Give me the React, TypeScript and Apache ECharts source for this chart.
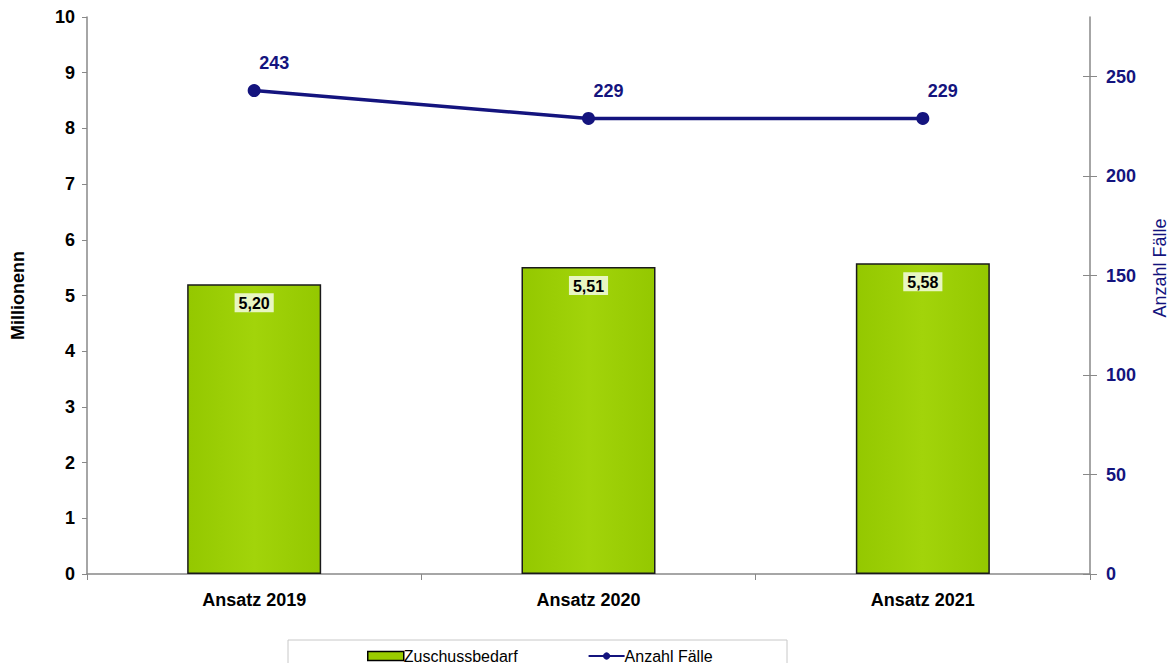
import React, { useEffect, useRef } from "react";
import * as echarts from "echarts";

const categories = ["Ansatz 2019", "Ansatz 2020", "Ansatz 2021"];
const zuschussbedarf = [5.2, 5.51, 5.58];
const anzahlFaelle = [243, 229, 229];
const leftTicks = { min: 0, max: 10, interval: 1 };
const rightTicks = { min: 0, max: 280, interval: 50 };
const rightTickValues = [0, 50, 100, 150, 200, 250];

const FONT = "'Liberation Sans', Arial, sans-serif";
const NAVY = "#14147e";

export default function App() {
  const ref = useRef<HTMLDivElement>(null);
  useEffect(() => {
    if (!ref.current) return;
    const chart = echarts.init(ref.current, undefined, { renderer: "svg" });
    chart.setOption({
      animation: false,
      backgroundColor: "#ffffff",
      textStyle: { fontFamily: FONT },
      grid: { left: 87, right: 81, top: 17, bottom: 89, containLabel: false },
      legend: {
        left: 362,
        top: 643,
        itemGap: 70,
        itemWidth: 36,
        itemHeight: 9,
        textStyle: { fontFamily: FONT, fontSize: 16, color: "#000", padding: [0, 0, 0, -5] },
        data: [
          { name: "Zuschussbedarf", icon: "rect", itemStyle: { color: "#9acc00", borderColor: "#000", borderWidth: 1.5 } },
          { name: "Anzahl Fälle" },
        ],
      },
      graphic: [
        {
          type: "rect",
          z: -1,
          shape: { x: 288, y: 640, width: 499, height: 40 },
          style: { fill: "#fff", stroke: "#c8c8c8", lineWidth: 1 },
        },
        {
          type: "text",
          x: 1160,
          y: 268,
          rotation: Math.PI / 2,
          style: {
            text: "Anzahl Fälle",
            fontFamily: FONT,
            fontSize: 18,
            fill: NAVY,
            align: "center",
            verticalAlign: "middle",
          },
        },
      ],
      xAxis: {
        type: "category",
        data: categories,
        axisLine: { lineStyle: { color: "#888", width: 1.5 } },
        axisTick: { show: true, length: 6, lineStyle: { color: "#888" } },
        axisLabel: { fontFamily: FONT, fontSize: 18, fontWeight: "bold", color: "#000", margin: 17 },
      },
      yAxis: [
        {
          type: "value",
          min: leftTicks.min,
          max: leftTicks.max,
          interval: leftTicks.interval,
          name: "Millionenn",
          nameLocation: "middle",
          nameGap: 60,
          nameTextStyle: { fontFamily: FONT, fontSize: 18, fontWeight: "bold", color: "#000" },
          axisLine: { show: true, lineStyle: { color: "#888", width: 1.5 } },
          axisTick: { show: true, length: 5, lineStyle: { color: "#888" } },
          axisLabel: { fontFamily: FONT, fontSize: 18, fontWeight: "bold", color: "#000", margin: 12 },
          splitLine: { show: false },
        },
        {
          type: "value",
          position: "right",
          min: rightTicks.min,
          max: rightTicks.max,
          interval: rightTicks.interval,
          axisLine: { show: true, lineStyle: { color: "#888", width: 1.5 } },
          axisTick: { show: true, length: 7, customValues: rightTickValues, lineStyle: { color: "#888" } },
          axisLabel: {
            fontFamily: FONT,
            fontSize: 18,
            fontWeight: "bold",
            color: NAVY,
            margin: 16,
            customValues: rightTickValues,
          },
          splitLine: { show: false },
        },
        {
          type: "value",
          position: "right",
          min: rightTicks.min,
          max: rightTicks.max,
          interval: rightTicks.interval,
          axisLine: { show: false },
          axisTick: { show: true, inside: true, length: 7, customValues: rightTickValues, lineStyle: { color: "#888" } },
          axisLabel: { show: false },
          splitLine: { show: false },
        },
      ],
      series: [
        {
          name: "Zuschussbedarf",
          type: "bar",
          yAxisIndex: 0,
          data: zuschussbedarf,
          barWidth: 134,
          itemStyle: {
            color: new echarts.graphic.LinearGradient(0, 0, 1, 0, [
              { offset: 0, color: "#94c800" },
              { offset: 0.5, color: "#a2d40a" },
              { offset: 1, color: "#94c800" },
            ]),
            borderColor: "#1a1a1a",
            borderWidth: 1.5,
          },
          label: {
            show: true,
            position: "insideTop",
            distance: 9,
            fontFamily: FONT,
            fontSize: 16,
            fontWeight: "bold",
            color: "#000",
            backgroundColor: "rgba(240,250,215,0.9)",
            padding: [2, 4, 1, 4],
            formatter: (p: any) => p.value.toFixed(2).replace(".", ","),
          },
        },
        {
          name: "Anzahl Fälle",
          type: "line",
          yAxisIndex: 1,
          data: anzahlFaelle,
          symbol: "circle",
          symbolSize: 13,
          lineStyle: { color: NAVY, width: 3.5 },
          itemStyle: { color: NAVY },
          label: {
            show: true,
            position: "top",
            distance: 12,
            offset: [20, 0],
            fontFamily: FONT,
            fontSize: 18,
            fontWeight: "bold",
            color: NAVY,
          },
        },
      ],
    });
    return () => chart.dispose();
  }, []);
  return (
    <div
      ref={ref}
      style={{ position: "fixed", left: 0, top: 0, width: 1171, height: 663, background: "#fff" }}
    />
  );
}
